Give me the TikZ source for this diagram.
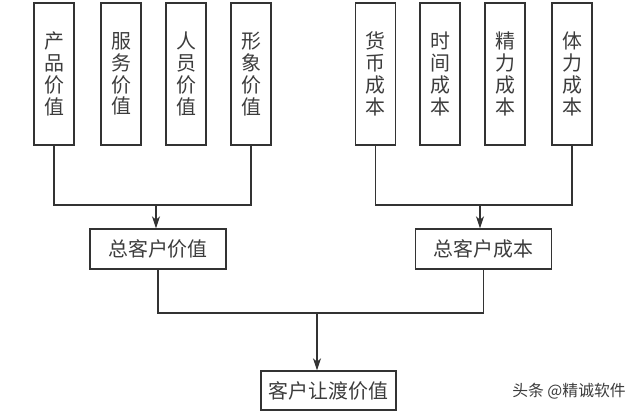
\documentclass[tikz,border=0pt]{standalone}
\usepackage{fontspec}
\newfontfamily\cjk{Noto Sans CJK SC}
\usetikzlibrary{arrows.meta}
\definecolor{linegray}{HTML}{333333}
\definecolor{textgray}{HTML}{3C3C3C}

\begin{document}
\begin{tikzpicture}[x=0.03cm,y=-0.03cm,
    tallbox/.style={draw=linegray, line width=1.1pt, minimum width=1.2cm, minimum height=4.26cm, inner sep=0pt, align=center, text=textgray, font=\cjk\fontsize{17}{18.6}\selectfont},
    sumbox/.style={draw=linegray, line width=1.1pt, minimum width=4.08cm, minimum height=1.2cm, inner sep=0pt, text=textgray, font=\cjk\fontsize{17}{20}\selectfont},
    link/.style={draw=linegray, line width=1.1pt},
    flow/.style={link, -{Stealth[length=3.6mm,width=2.4mm,inset=1mm]}}]
          \useasboundingbox (0,0) rectangle (640,418);

          % value side
          \node[tallbox] (prod) at (54,74) {产\\品\\价\\值};
          \node[tallbox] (serv) at (121,74) {服\\务\\价\\值};
          \node[tallbox] (staff) at (186,74) {人\\员\\价\\值};
          \node[tallbox] (image) at (251,74) {形\\象\\价\\值};

          % cost side
          \node[tallbox] (money) at (375.5,74) {货\\币\\成\\本};
          \node[tallbox] (time) at (440,74) {时\\间\\成\\本};
          \node[tallbox] (energy) at (505,74) {精\\力\\成\\本};
          \node[tallbox] (phys) at (572,74) {体\\力\\成\\本};

          \node[sumbox] (totval) at (158,249) {总客户价值};
          \node[sumbox] (totcost) at (483.5,249) {总客户成本};
          \node[sumbox, minimum width=4.05cm, minimum height=1.17cm] (delival) at (328.5,390.5) {客户让渡价值};

          \node[text=textgray, font=\cjk\fontsize{13.5}{15}\selectfont] (mark) at (569,391) {头条 @精诚软件};

          \coordinate (valjoin) at (156,205);
          \coordinate (costjoin) at (480,205);
          \coordinate (finjoin) at (317,313);

          \draw[link] (prod.south) |- (image.south |- valjoin) -- (image.south);
          \draw[link] (money.south) |- (phys.south |- costjoin) -- (phys.south);

          \draw[flow] (valjoin) -- (valjoin |- totval.north);
          \draw[flow] (costjoin) -- (costjoin |- totcost.north);

          \draw[link] (totval.south) |- (totcost.south |- finjoin) -- (totcost.south);
          \draw[flow] (finjoin) -- (finjoin |- delival.north);
          % \draw[link] (serv.south) -- (serv.south |- valjoin);
        \end{tikzpicture}
\end{document}
